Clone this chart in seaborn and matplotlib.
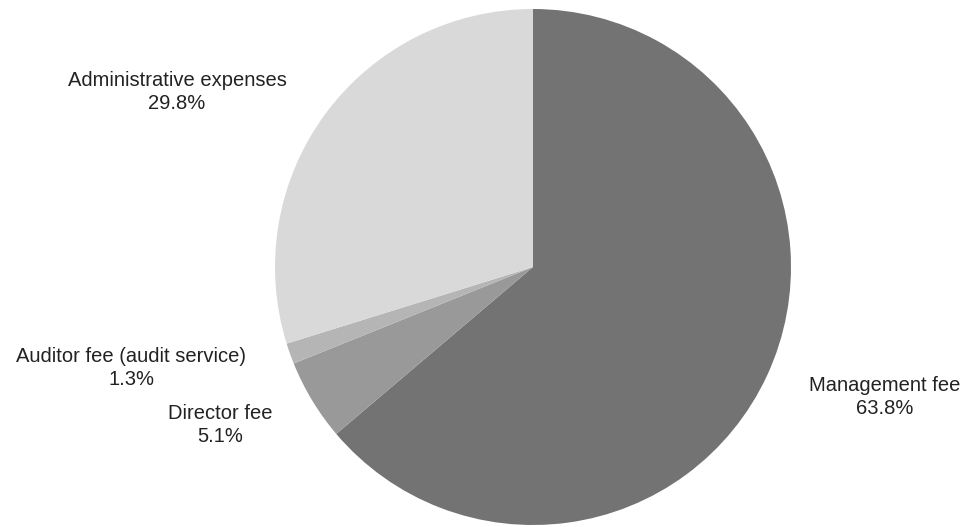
import matplotlib
matplotlib.use("Agg")
import matplotlib.pyplot as plt
import seaborn as sns

# Expense breakdown (share of total, %)
categories = ["Management fee", "Director fee", "Auditor fee (audit service)", "Administrative expenses"]
shares = [63.8, 5.1, 1.3, 29.8]
colors = ["#737373", "#999999", "#b5b5b5", "#d9d9d9"]

sns.set_theme(style="white")
plt.rcParams["font.family"] = ["Liberation Sans", "DejaVu Sans"]

W, H = 964, 527
cx, cy, R = 533, 267, 258  # pie centre and radius in pixels

fig = plt.figure(figsize=(W / 100, H / 100), dpi=100)
ax = fig.add_axes([0, 0, 1, 1])
ax.pie(shares, colors=colors, startangle=90, counterclock=False,
       radius=1.0, center=(0, 0), wedgeprops=dict(linewidth=0))
ax.set_xlim(-cx / R, (W - cx) / R)
ax.set_ylim(-(H - cy) / R, cy / R)
ax.set_aspect("equal")
ax.axis("off")

# label anchor points (pixels) for each category
label_px = {
    "Management fee": (885, 397),
    "Director fee": (220, 425),
    "Auditor fee (audit service)": (131, 368),
    "Administrative expenses": (177, 92),
}
for name, val in zip(categories, shares):
    px, py = label_px[name]
    ax.text((px - cx) / R, (cy - py) / R, f"{name}\n{val:.1f}%",
            ha="center", va="center", fontsize=14.5, color="#222222",
            linespacing=1.3)

fig.savefig("out.png", dpi=100, facecolor="white")
